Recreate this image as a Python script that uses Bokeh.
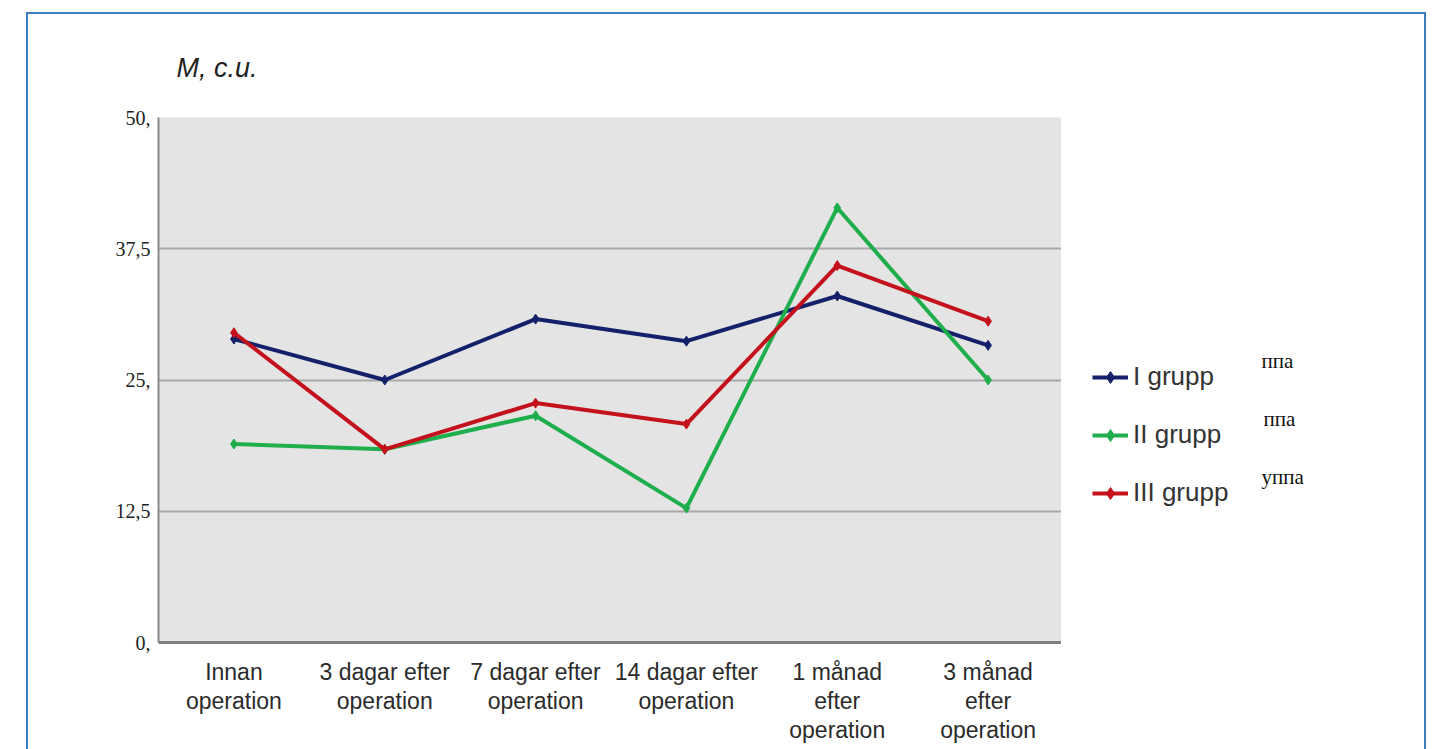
from bokeh.plotting import figure
from bokeh.layouts import row
from bokeh.models import (FactorRange, Range1d, FixedTicker, Legend, LegendItem,
                          Label, ColumnDataSource)
from bokeh.embed import file_html
from bokeh.resources import INLINE

# ---- data ----
categories = ["Innan\noperation", "3 dagar efter\noperation", "7 dagar efter\noperation",
              "14 dagar efter\noperation", "1 månad\nefter\noperation", "3 månad\nefter\noperation"]
group1 = [28.9, 25.0, 30.8, 28.7, 33.0, 28.3]
group2 = [18.9, 18.4, 21.6, 12.8, 41.4, 25.0]
group3 = [29.5, 18.4, 22.8, 20.8, 35.9, 30.6]
series_names = ["I grupp", "II grupp", "III grupp"]
series_colors = ["#14206a", "#1fae4c", "#c4121c"]
y_ticks = [0, 12.5, 25, 37.5, 50]
y_tick_labels = ["0,", "12,5", "25,", "37,5", "50,"]
stray_texts = ["ппа", "ппа", "уппа"]
title_text = "M, c.u."

border = "2px solid #3d7dc6"

# ---- main chart ----
p = figure(x_range=FactorRange(*categories), y_range=Range1d(0, 50),
           width=1035, height=737, output_backend="svg", toolbar_location=None,
           min_border_left=130, min_border_right=0, min_border_top=103, min_border_bottom=109,
           styles={"border-top": border, "border-left": border})

p.background_fill_color = "#e4e4e4"
p.border_fill_color = "white"
p.outline_line_color = None

p.title.text = title_text
p.title.align = "left"
p.title.offset = 18
p.title.standoff = 70
p.title.text_font = "Liberation Sans"
p.title.text_font_style = "italic"
p.title.text_font_size = "27px"
p.title.text_color = "#222222"

p.xgrid.grid_line_color = None
p.ygrid.grid_line_color = "#a8a8a8"
p.ygrid.grid_line_width = 2
p.yaxis.ticker = FixedTicker(ticks=y_ticks)
p.yaxis.major_label_overrides = {t: l for t, l in zip(y_ticks, y_tick_labels)}
p.yaxis.major_label_text_font = "Liberation Serif"
p.yaxis.major_label_text_font_size = "20px"
p.yaxis.major_label_text_color = "#222222"
p.yaxis.major_label_standoff = 2
p.yaxis.axis_line_color = "#8a8a8a"
p.yaxis.axis_line_width = 2
p.yaxis.major_tick_line_color = None
p.yaxis.minor_tick_line_color = None

p.xaxis.major_label_text_font = "Liberation Sans"
p.xaxis.major_label_text_font_size = "23px"
p.xaxis.major_label_text_color = "#2b2b2b"
p.xaxis.major_label_text_line_height = 1.12
p.xaxis.major_label_standoff = 10
p.xaxis.axis_line_color = "#808080"
p.xaxis.axis_line_width = 3
p.xaxis.major_tick_line_color = None
p.xaxis.minor_tick_line_color = None

for vals, col in zip([group1, group2, group3], series_colors):
    src = ColumnDataSource(dict(x=categories, y=vals))
    p.line("x", "y", source=src, line_width=4, line_color=col)
    p.scatter("x", "y", source=src, marker="diamond", size=10, color=col)

# ---- side panel with legend (frame aligned with the main frame: 1 unit = 1 px) ----
side = figure(x_range=Range1d(0, 363), y_range=Range1d(0, 524),
              width=365, height=737, output_backend="svg", toolbar_location=None,
              min_border_left=0, min_border_right=0, min_border_top=103, min_border_bottom=109,
              styles={"border-top": border, "border-right": border})
side.axis.visible = False
side.grid.visible = False
side.outline_line_color = None
side.background_fill_color = "white"
side.border_fill_color = "white"

items = []
for name, vals, col in zip(series_names, [group1, group2, group3], series_colors):
    src = ColumnDataSource(dict(x=list(range(len(vals))), y=vals))
    l = side.line("x", "y", source=src, line_width=4, line_color=col, visible=False)
    s = side.scatter("x", "y", source=src, marker="diamond", size=10, color=col, visible=False)
    items.append(LegendItem(label=name, renderers=[l, s]))

legend = Legend(items=items, location=(31, 134), padding=0, margin=0,
                glyph_width=36, glyph_height=30, label_height=30, spacing=27,
                label_standoff=5, label_text_font="Liberation Sans",
                label_text_font_size="26px", label_text_color="#333333",
                background_fill_alpha=0, border_line_color=None)
side.add_layout(legend)

stray_pos = [(199, 281), (201, 223), (199, 165)]
for t, (sx, sy) in zip(stray_texts, stray_pos):
    side.add_layout(Label(x=sx, y=sy, text=t, text_font="Liberation Serif",
                          text_font_size="21px", text_color="#111111",
                          text_baseline="middle"))

layout = row(p, side, spacing=0, styles={"margin-left": "26px", "margin-top": "12px"})

open("out.html", "w").write(file_html(layout, INLINE))
